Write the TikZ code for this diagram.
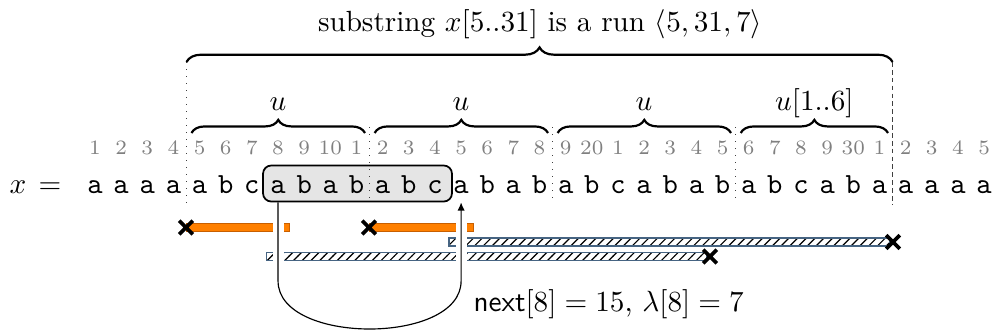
\documentclass[tikz,border=0pt]{standalone}
\usetikzlibrary{decorations.pathreplacing,patterns,shapes.misc,arrows.meta,calc,fit,backgrounds}
\definecolor{hatchborder}{RGB}{70,100,130}
\definecolor{barorange}{RGB}{255,128,0}
\definecolor{barorangeline}{RGB}{200,95,0}
\begin{document}
\begin{tikzpicture}[x=0.3425pt,y=0.3425pt,
  chr/.style={inner sep=0pt, anchor=base, font=\ttfamily},
  idx/.style={inner sep=0pt, anchor=base, font=\fontsize{7}{8}\selectfont, text=black!50},
  lab/.style={inner sep=0pt, anchor=base},
  runbox/.style={draw=black, line width=0.6pt, fill=black!10, rounded corners=2.8pt, inner sep=0pt},
  bracedeco/.style={decorate, line width=0.75pt, decoration={brace, amplitude=#1}},
  sepdot/.style={dotted, black!75, line width=0.4pt},
  sepdash/.style={dash pattern=on 1.6pt off 1.1pt, black!75, line width=0.45pt},
  obar/.style={fill=barorange, draw=barorangeline, line width=0.35pt},
  hbar/.style={pattern=north east lines, pattern color=black, draw=hatchborder, line width=0.5pt},
  xmark/.style={draw, cross out, line width=1.3pt, minimum size=3.4pt, inner sep=0pt},
  halo/.style={white, line width=3.8pt},
  arrowline/.style={line width=0.4pt, -{Latex[length=2.8pt,width=2.5pt]}}
]
\useasboundingbox (0,0) rectangle (993,-335);

% title
\node[lab] (title) at (540,-31) {substring $x[5..31]$ is a run $\langle 5,31,7\rangle$};

% the string
\node[lab] (xsym) at (18,-193) {$x$};
\node[lab] (eqsym) at (50,-193) {$=$};
\foreach \ch [count=\i] in {a,a,a,a,a,b,c,a,b,a,b,a,b,c,a,b,a,b,a,b,c,a,b,a,b,a,b,c,a,b,a,a,a,a,a}
  \node[chr] (c\i) at ({95+(\i-1)*26.15},-193) {\ch};
\foreach \n [count=\i] in {1,2,3,4,5,6,7,8,9,10,1,2,3,4,5,6,7,8,9,20,1,2,3,4,5,6,7,8,9,30,1,2,3,4,5}
  \node[idx] (n\i) at ({95+(\i-1)*26.15},-154) {\n};

% highlighted box
\begin{scope}[on background layer]
  \node[runbox, fit={($(c8.base)+(-15,27.5)$) ($(c14.base)+(17,-8.5)$)}] (box) {};
\end{scope}

% separators
\coordinate (s0t) at (186.5,-62);  \coordinate (s0b) at (186.5,-204);
\coordinate (s1t) at (369.6,-127); \coordinate (s1b) at (369.6,-204);
\coordinate (s2t) at (552.6,-127); \coordinate (s2b) at (552.6,-204);
\coordinate (s3t) at (735.7,-127); \coordinate (s3b) at (735.7,-204);
\coordinate (s4t) at (892.6,-62);  \coordinate (s4b) at (892.6,-204);
\draw[sepdot] (s0t) -- (s0b);
\draw[sepdot] (s1t) -- (s1b);
\draw[sepdot] (s2t) -- (s2b);
\draw[sepdot] (s3t) -- (s3b);
\draw[sepdash] (s4t) -- (s4b);

% braces
\draw[bracedeco=5pt] (s0t) -- (s4t);
\draw[bracedeco=4.5pt] (191.5,-133) -- (365,-133);
\draw[bracedeco=4.5pt] (374.6,-133) -- (548,-133);
\draw[bracedeco=4.5pt] (557.6,-133) -- (731,-133);
\draw[bracedeco=4.5pt] (740.7,-133) -- (888,-133);
\node[lab] (u1) at (278,-110) {$u$};
\node[lab] (u2) at (461,-110) {$u$};
\node[lab] (u3) at (644,-110) {$u$};
\node[lab] (u4) at (814.4,-110) {$u[1..6]$};

% bars
\draw[obar] (186.5,-223.2) rectangle (289.5,-231.8);
\draw[obar] (369.6,-223.2) rectangle (473.5,-231.8);
\draw[hbar] (449,-238) rectangle (890,-246);
\draw[hbar] (266.5,-252.3) rectangle (707,-260.7);

% gaps around the arrow
\draw[halo] ($(c8.base)+(0,-24)$) -- ($(c8.base)+(0,-74)$);
\draw[halo] ($(c15.base)+(0,-24)$) -- ($(c15.base)+(0,-74)$);

% crosses
\node[xmark] (k1) at (186,-227.5) {};
\node[xmark] (k2) at (369,-227.5) {};
\node[xmark] (k3) at (893,-242) {};
\node[xmark] (k4) at (710,-256.5) {};

% arrow
\coordinate (loopL) at ($(c8.base)+(0,-88)$);
\coordinate (loopR) at ($(c15.base)+(0,-88)$);
\draw[arrowline] (box.south -| c8.base) -- (loopL) .. controls +(0,-64) and +(0,-64) .. (loopR) -- (c15.base |- box.south);

\node[lab, anchor=base west] (lbl) at (473,-311) {$\mathsf{next}[8] = 15$, $\lambda[8] = 7$};
\end{tikzpicture}
\end{document}
